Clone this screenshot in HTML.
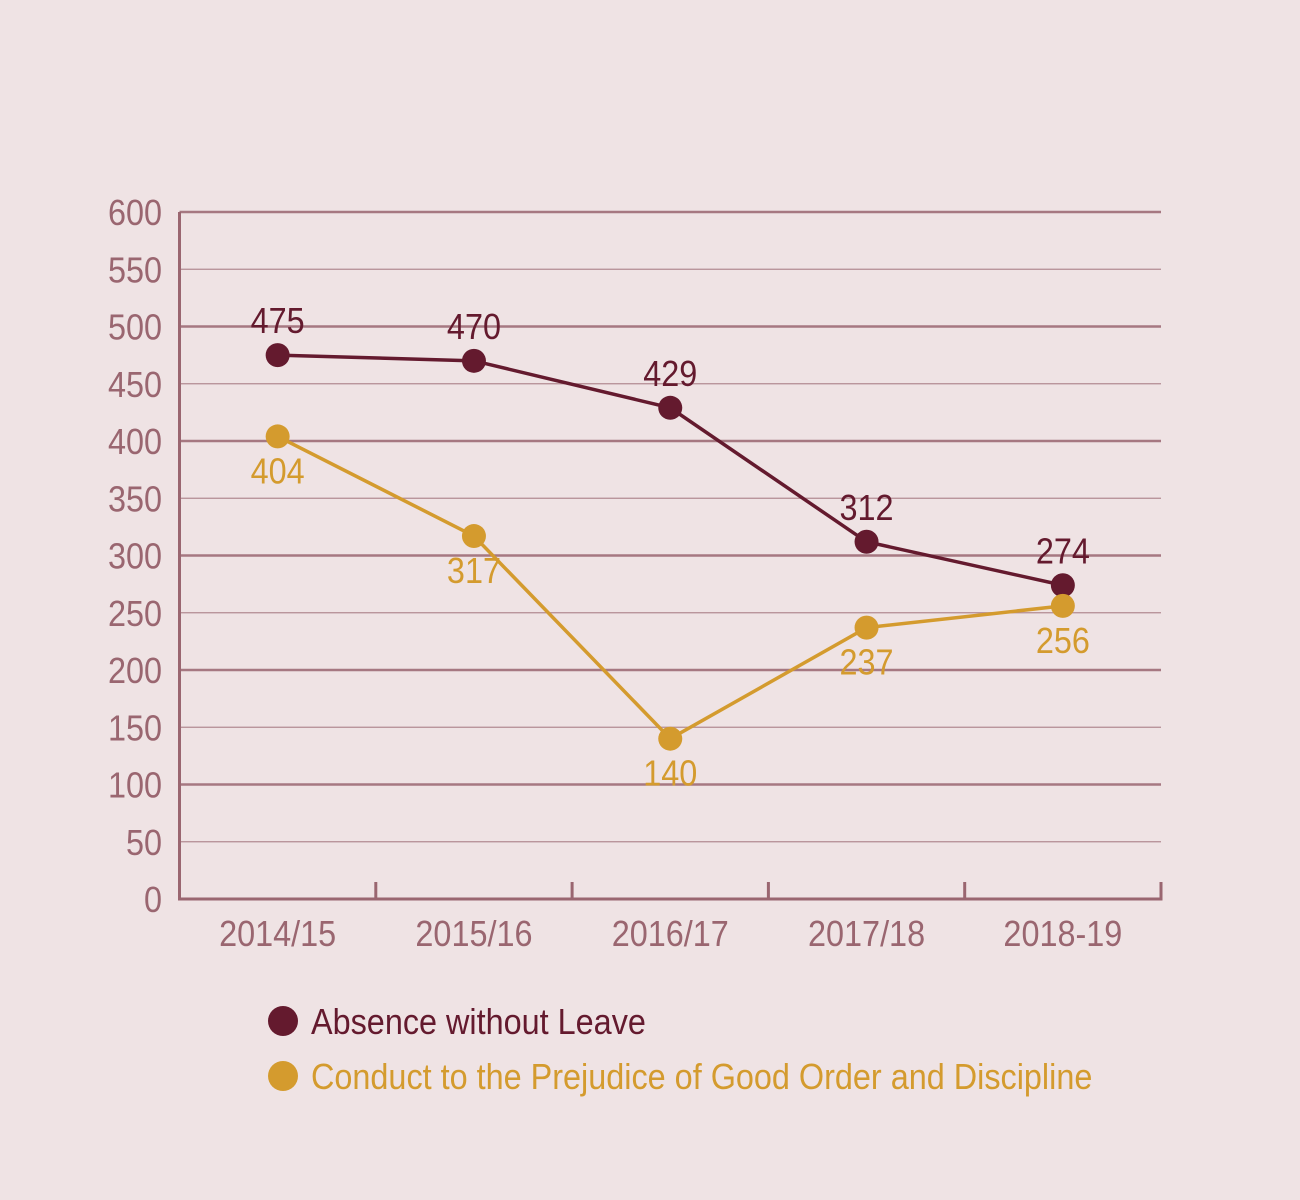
<!DOCTYPE html>
<html><head><meta charset="utf-8"><style>
html,body{margin:0;padding:0;background:#efe3e4;}
svg{display:block;}
text{font-family:"Liberation Sans",sans-serif;}
</style></head><body>
<svg id="chart" width="1300" height="1200" xmlns="http://www.w3.org/2000/svg">
<rect width="1300" height="1200" fill="#efe3e4"/>
</svg>
<script>
const categories = ["2014/15","2015/16","2016/17","2017/18","2018-19"];
const awolValues = [475,470,429,312,274];
const conductValues = [404,317,140,237,256];
const yTicks = [0,50,100,150,200,250,300,350,400,450,500,550,600];
const seriesNames = ["Absence without Leave","Conduct to the Prejudice of Good Order and Discipline"];

const NS="http://www.w3.org/2000/svg";
const svg=document.getElementById('chart');
const L=179.5,R=1161,T=212,B=899,yMax=600;
const bw=(R-L)/categories.length;
const xs=i=>L+bw*(i+0.5);
const ys=v=>B-(v/yMax)*(B-T);
const AX="#9a6670",DARK="#641a2e",GOLD="#d49b2e";
const SX=0.9;
function mk(tag,attrs,parent){const e=document.createElementNS(NS,tag);for(const k in attrs)e.setAttribute(k,attrs[k]);(parent||svg).appendChild(e);return e;}
function txt(x,y,str,attrs){
  const t=mk('text',Object.assign({x:0,y:0,transform:'translate('+x+','+y+') scale('+SX+',1)'},attrs));
  t.textContent=str;return t;
}

yTicks.forEach(v=>{
  const y=ys(v);
  if(v>0){
    const major=v%100===0;
    const g=mk('line',{x1:L,x2:R,y1:y,y2:y,stroke:AX,'stroke-width':major?2.5:1.2,opacity:major?0.85:0.7});
    
    
  }
  const t=txt(162,y+13,v,{'text-anchor':'end','font-size':36,fill:AX});
  
  
});
const ya=mk('line',{x1:L,x2:L,y1:T,y2:B+1.5,stroke:AX,'stroke-width':3});


const xa=mk('line',{x1:L-1.5,x2:R+1.5,y1:B,y2:B,stroke:AX,'stroke-width':3});


categories.forEach((c,i)=>{
  const tx=L+bw*(i+1);
  const tk=mk('line',{x1:tx,x2:tx,y1:B,y2:B-17,stroke:AX,'stroke-width':3});
  
  
  const t=txt(xs(i),946,c,{'text-anchor':'middle','font-size':36,fill:AX});
  
  
});
function series(vals,color,name,labelAbove){
  const pts=vals.map((v,i)=>xs(i)+','+ys(v)).join(' ');
  const pl=mk('polyline',{points:pts,fill:'none',stroke:color,'stroke-width':3.5});
  
  
  vals.forEach((v,i)=>{
    const c=mk('circle',{cx:xs(i),cy:ys(v),r:12,fill:color});
    
    
    const t=txt(xs(i),labelAbove?ys(v)-22:ys(v)+47,v,{'text-anchor':'middle','font-size':36,fill:color});
    
    
  });
}
series(awolValues,DARK,'awol',true);
series(conductValues,GOLD,'conduct',false);
[[DARK,1021],[GOLD,1076]].forEach((p,i)=>{
  const c=mk('circle',{cx:283,cy:p[1],r:15,fill:p[0]});
  
  
  const t=txt(311,p[1]+13,seriesNames[i],{'font-size':36,fill:p[0]});
  
  
});
</script>
</body></html>
